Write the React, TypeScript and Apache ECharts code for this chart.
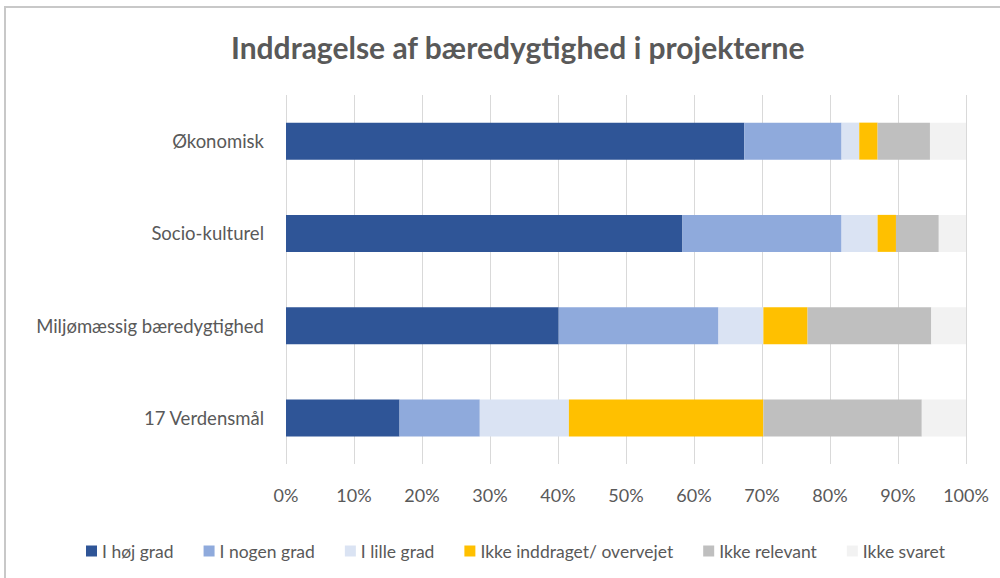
import React, { useEffect, useRef } from "react";
import * as echarts from "echarts";

const categories = ["Økonomisk", "Socio-kulturel", "Miljømæssig bæredygtighed", "17 Verdensmål"];
const seriesNames = ["I høj grad", "I nogen grad", "I lille grad", "Ikke inddraget/ overvejet", "Ikke relevant", "Ikke svaret"];
const hoejGrad = [67.4, 58.3, 40.1, 16.7];
const nogenGrad = [14.3, 23.4, 23.5, 11.8];
const lilleGrad = [2.6, 5.3, 6.6, 13.1];
const ikkeInddraget = [2.7, 2.7, 6.5, 28.6];
const ikkeRelevant = [7.7, 6.3, 18.2, 23.3];
const ikkeSvaret = [5.3, 4.0, 5.1, 6.5];
const colors = ["#2f5597", "#8faadc", "#dae3f3", "#ffc000", "#bfbfbf", "#f2f2f2"];
const xTicks = [0, 10, 20, 30, 40, 50, 60, 70, 80, 90, 100];

const seriesData = [hoejGrad, nogenGrad, lilleGrad, ikkeInddraget, ikkeRelevant, ikkeSvaret];
const FONT = "Lato, 'Open Sans', sans-serif";

export default function App() {
  const ref = useRef<HTMLDivElement>(null);
  useEffect(() => {
    const chart = echarts.init(ref.current!, null, { renderer: "svg" });
    chart.setOption({
      animation: false,
      backgroundColor: "#ffffff",
      textStyle: { fontFamily: FONT },
      title: {
        text: "Inddragelse af bæredygtighed i projekterne",
        left: 226,
        top: 27,
        textStyle: { fontFamily: FONT, fontSize: 30, fontWeight: "bold", color: "#595959" },
      },
      graphic: [
        {
          type: "rect",
          shape: { x: 5, y: 7, width: 1100, height: 700 },
          style: { fill: "none", stroke: "#c8c8c8", lineWidth: 2 },
          silent: true,
        },
      ],
      legend: {
        bottom: 13,
        left: 81,
        icon: "rect",
        itemWidth: 11,
        itemHeight: 11,
        itemGap: 30,
        textStyle: { fontFamily: FONT, fontSize: 17.5, color: "#595959" },
        data: seriesNames,
      },
      grid: { left: 286, right: 34, top: 95, bottom: 114, containLabel: false },
      xAxis: {
        type: "value",
        min: 0,
        max: 100,
        interval: 10,
        axisLine: { show: false },
        axisTick: { show: false },
        splitLine: { show: true, lineStyle: { color: "#d9d9d9", width: 1 } },
        axisLabel: {
          formatter: (v: number) => (xTicks.includes(v) ? v + "%" : ""),
          color: "#595959",
          fontSize: 18,
          fontFamily: FONT,
          margin: 22,
        },
      },
      yAxis: {
        type: "category",
        inverse: true,
        data: categories,
        axisLine: { show: false },
        axisTick: { show: false },
        axisLabel: { color: "#595959", fontSize: 18.5, fontFamily: FONT, margin: 22 },
      },
      series: seriesNames.map((name, i) => ({
        name,
        type: "bar",
        stack: "total",
        barWidth: 37,
        itemStyle: { color: colors[i] },
        data: seriesData[i],
      })),
    });
    return () => chart.dispose();
  }, []);
  return <div ref={ref} style={{ position: "fixed", left: 0, top: 0, width: 1000, height: 578 }} />;
}
